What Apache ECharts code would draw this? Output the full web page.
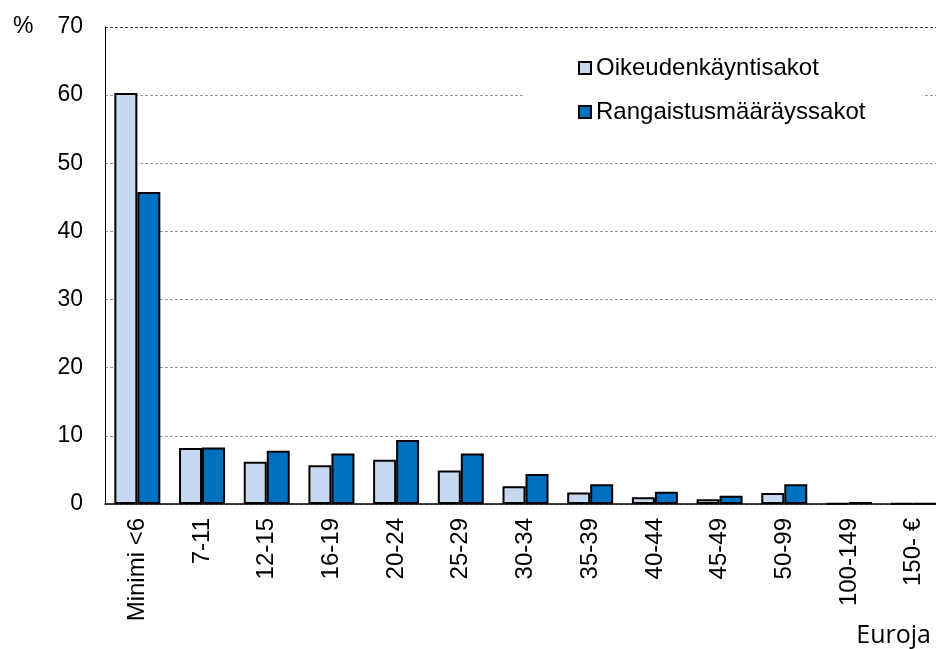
<!DOCTYPE html>
<html>
<head>
<meta charset="utf-8">
<script src="https://cdn.jsdelivr.net/npm/echarts@6/dist/echarts.min.js"></script>
<style>
  html, body { margin: 0; padding: 0; background: #fff; overflow: hidden; }
  #chart { width: 946px; height: 649px; }
</style>
</head>
<body>
<div id="chart"></div>
<script>
const categories = ['Minimi <6', '7-11', '12-15', '16-19', '20-24', '25-29', '30-34', '35-39', '40-44', '45-49', '50-99', '100-149', '150- €'];
const oikeudenkayntisakot = [60.3, 8.2, 6.2, 5.7, 6.5, 4.9, 2.6, 1.7, 1.0, 0.7, 1.6, 0.1, 0.1];
const rangaistusmaaraykset = [45.8, 8.3, 7.8, 7.4, 9.4, 7.4, 4.4, 2.9, 1.8, 1.2, 2.9, 0.3, 0.1];
const yTicks = { min: 0, max: 70, interval: 10 };

const chart = echarts.init(document.getElementById('chart'));
const font = 'Liberation Sans, Arial, sans-serif';

chart.setOption({
  animation: false,
  grid: { left: 105, top: 27, right: 0, bottom: 145, containLabel: false },
  legend: {
    orient: 'vertical',
    left: 523,
    top: 52,
    backgroundColor: '#fff',
    padding: [4, 57, 4, 55],
    itemWidth: 12,
    itemHeight: 12,
    itemGap: 20,
    icon: 'rect',
    textStyle: { fontFamily: font, fontSize: 24, color: '#000' },
    data: ['Oikeudenkäyntisakot', 'Rangaistusmääräyssakot']
  },
  xAxis: {
    type: 'category',
    data: categories,
    axisLine: { lineStyle: { color: '#000', width: 1.5 } },
    axisTick: { show: false },
    axisLabel: { rotate: 90, margin: 14, fontFamily: font, fontSize: 24, color: '#000', interval: 0 },
    name: 'Euroja',
    nameLocation: 'end',
    nameGap: 0,
    nameTextStyle: { fontFamily: 'Open Sans, sans-serif', fontSize: 25, color: '#000', align: 'right', verticalAlign: 'top', padding: [119, 15, 0, 0] }
  },
  yAxis: {
    type: 'value',
    min: yTicks.min,
    max: yTicks.max,
    interval: yTicks.interval,
    name: '%',
    nameLocation: 'end',
    nameGap: 0,
    nameTextStyle: { fontFamily: font, fontSize: 23, color: '#000', align: 'left', verticalAlign: 'middle', padding: [0, 0, 0, -92] },
    axisLine: { show: true, lineStyle: { color: '#000', width: 1 } },
    axisTick: { show: false },
    axisLabel: { margin: 22, fontFamily: font, fontSize: 23, color: '#000' },
    splitLine: {
      show: true,
      lineStyle: {
        type: [3, 2],
        width: 1,
        color: ['#999', '#999', '#999', '#999', '#999', '#999', '#999', '#333']
      }
    }
  },
  series: [
    {
      name: 'Oikeudenkäyntisakot',
      type: 'bar',
      data: oikeudenkayntisakot,
      barWidth: 23,
      barGap: 0,
      itemStyle: { color: '#c6d9f0', borderColor: '#000', borderWidth: 2 }
    },
    {
      name: 'Rangaistusmääräyssakot',
      type: 'bar',
      data: rangaistusmaaraykset,
      barWidth: 23,
      itemStyle: { color: '#0070c0', borderColor: '#000', borderWidth: 2 }
    }
  ]
});
</script>
</body>
</html>
